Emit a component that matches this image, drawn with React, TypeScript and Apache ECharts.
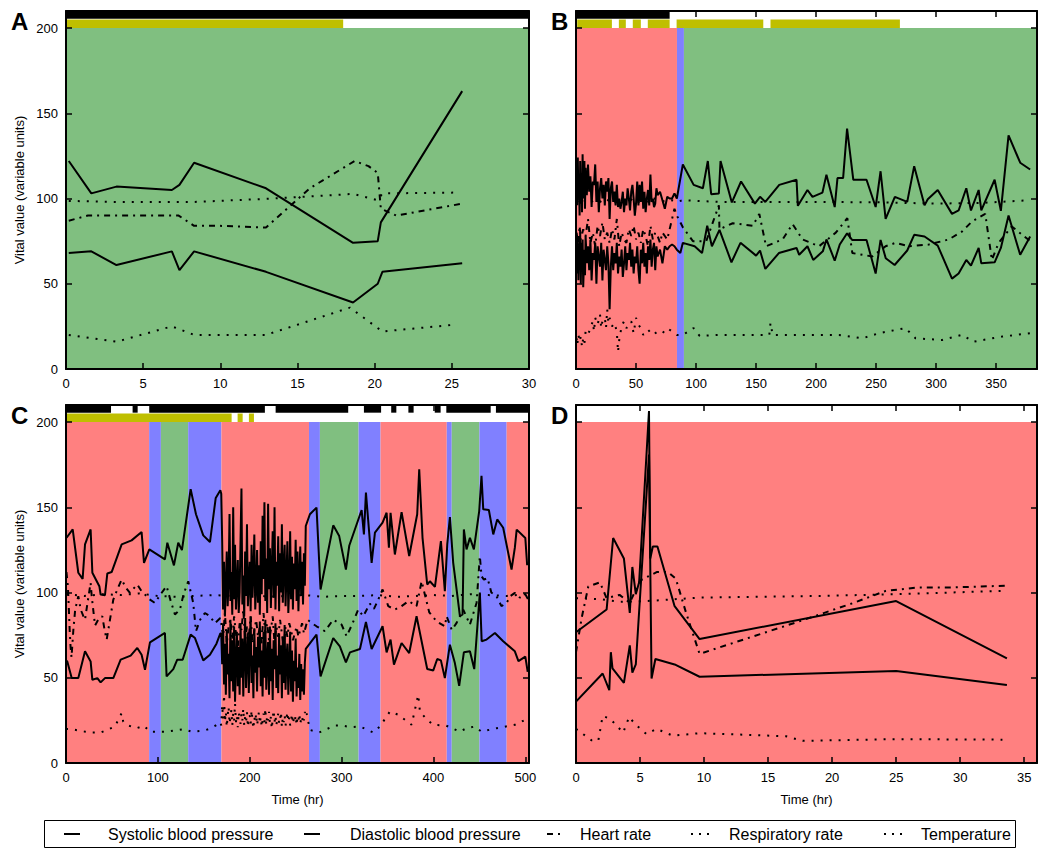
import React, { useEffect, useRef } from 'react';
import * as echarts from 'echarts';

type P = [number, number];
type Band = [number, number, string];
type Seg = [number, number];

const FONT = '"Liberation Sans", Arial, Helvetica, sans-serif';
const COLORS: Record<string, string> = { r: '#FF8080', b: '#8080FF', g: '#80BF80' };
const YELLOW = '#BFBF00';

const seriesNames = ['Systolic blood pressure', 'Diastolic blood pressure', 'Heart rate', 'Respiratory rate', 'Temperature'];
const yTicks = [0, 50, 100, 150, 200];

// ---------- Panel A ----------
const aBands: Band[] = [[0, 30, 'g']];
const aBlack: Seg[] = [[0, 30]];
const aYellow: Seg[] = [[0, 17.96]];
const aSys: P[] = [[0.18, 122], [1.64, 103], [3.27, 107], [6.86, 105], [7.35, 108], [8.3, 121], [12.96, 106], [18.6, 74], [20.2, 75], [20.4, 86], [25.67, 163]];
const aDia: P[] = [[0.18, 68], [1.64, 69], [3.27, 61], [6.86, 69], [7.35, 58], [8.3, 69], [12.96, 57], [18.6, 39], [20.2, 50], [20.5, 57], [25.67, 62]];
const aHR: P[] = [[0.18, 87], [1.42, 90], [3.27, 90], [7.3, 90], [8.3, 84], [9.9, 84], [12.96, 83], [15.8, 106], [18.7, 122], [19.6, 119], [20.2, 115], [20.4, 94], [21.4, 90], [25.67, 97]];
const aResp: P[] = [[0.18, 20], [3.27, 16], [6.86, 25], [8.3, 20], [12.96, 20], [18.4, 36], [20.5, 22], [25.2, 26]];
const aTemp: P[] = [[0.18, 98.6], [3.27, 98], [6.86, 98], [8.3, 98], [12.96, 99.8], [18.6, 102.7], [20.2, 99], [20.5, 103], [25.4, 103.5]];

// ---------- Panel B ----------
const bBands: Band[] = [[0, 84.1, 'r'], [84.1, 89.9, 'b'], [89.9, 384, 'g']];
const bBlack: Seg[] = [[0, 78]];
const bYellow: Seg[] = [[1, 29.9], [35.7, 41.5], [47.3, 54], [59.8, 78], [83.8, 156], [162, 269.8]];
const bSys: P[] = [[0.5, 118], [1, 96], [1.5, 124], [2, 100], [2.5, 112], [3, 90], [3.5, 122], [4, 97], [4.5, 115], [5, 92], [5.5, 126], [6, 100], [7, 122], [7.5, 94], [8, 118], [9, 102], [10, 120], [11, 104], [12, 113], [13, 95], [14, 110], [15, 108], [16, 120], [17, 98], [18, 110], [19, 92], [20, 106], [21, 112], [22, 100], [23, 108], [24, 96], [25, 110], [26, 104], [27, 112], [28, 88], [29, 106], [30, 110], [31, 98], [32, 104], [33, 96], [34, 108], [35, 95], [36, 100], [37, 94], [38, 98], [39, 104], [40, 92], [41, 100], [42, 96], [43, 106], [44, 100], [45, 93], [46, 104], [47, 108], [48, 100], [49, 90], [50, 97], [51, 110], [52, 96], [53, 108], [54, 98], [55, 110], [56, 94], [57, 104], [58, 92], [59, 100], [60, 105], [61, 96], [62, 114], [63, 98], [64, 100], [65, 95], [66, 97], [67, 106], [68, 102], [70, 104], [72, 99], [74, 94], [76, 101], [78, 100], [80, 100], [82, 103], [84, 100], [89, 120], [98, 108], [105.7, 106], [109.8, 122], [112.6, 102.5], [119, 103], [120.4, 122], [129.8, 97.7], [137.5, 110], [149, 97], [153.3, 101], [157.7, 98], [169.3, 108], [183.7, 111], [184.8, 95.7], [192.8, 105], [197, 101], [205.3, 103.5], [208.6, 114], [215.5, 95], [217.8, 112], [222.5, 112], [225.8, 141], [231, 111], [242, 111], [249.6, 95], [253.7, 116], [257.9, 88], [265.6, 101], [275.9, 98], [281.7, 119], [290.3, 96], [293, 99.6], [301.3, 105], [313.2, 91], [318.7, 93], [325.1, 106], [329, 93], [335.4, 105], [337.6, 93], [348.7, 111], [353.9, 92.8], [360.3, 137], [370, 121], [378.3, 117]];
const bDia: P[] = [[0.5, 72], [1, 56], [1.5, 78], [2, 52], [2.5, 70], [3, 60], [3.5, 80], [4, 50], [4.5, 74], [5, 58], [5.5, 76], [6, 48], [7, 70], [7.5, 55], [8, 78], [9, 62], [10, 72], [11, 58], [12, 76], [13, 52], [14, 68], [15, 64], [16, 74], [17, 50], [18, 72], [19, 66], [20, 60], [21, 74], [22, 52], [23, 70], [24, 64], [25, 58], [26, 72], [27, 62], [28, 35], [29, 60], [30, 72], [31, 58], [32, 68], [33, 62], [34, 74], [35, 56], [36, 66], [37, 60], [38, 70], [39, 54], [40, 62], [41, 72], [42, 58], [43, 68], [44, 64], [45, 74], [46, 60], [47, 70], [48, 56], [49, 66], [50, 62], [51, 72], [52, 58], [53, 50], [54, 70], [55, 62], [56, 74], [57, 60], [58, 68], [59, 56], [60, 72], [61, 64], [62, 76], [63, 60], [64, 70], [65, 74], [66, 58], [67, 72], [68, 66], [70, 70], [72, 62], [74, 72], [76, 70], [78, 72], [80, 73], [82, 72], [84, 70], [86.9, 68], [89, 74], [98.8, 72], [105, 68], [109.3, 84], [113.2, 72], [119.5, 81.6], [129.5, 62.6], [137, 74], [150, 66.5], [153.3, 69.5], [157.7, 58.7], [169, 68], [183.7, 71], [185.9, 67], [192.8, 72], [197.6, 64], [205.6, 69], [208.6, 76], [215.5, 63.6], [219.7, 73], [225.8, 79.6], [230, 75.7], [242, 75.7], [249.6, 56], [253.7, 75.7], [258, 65], [265.4, 61], [275.9, 69.5], [281.7, 78.7], [290.3, 77.7], [301.3, 72.4], [313.2, 53], [318.7, 56], [325.1, 64], [329, 60.7], [335.4, 71], [337.6, 62], [348.7, 62.6], [353.9, 71], [360.3, 90], [370, 67], [378.3, 77.7]];
const bHR: P[] = [[0.5, 80], [2, 72], [3, 84], [4, 76], [6, 82], [8, 78], [10, 88], [12, 74], [14, 80], [16, 72], [18, 84], [20, 78], [22, 86], [24, 76], [26, 80], [28, 74], [30, 82], [32, 76], [34, 88], [36, 72], [38, 80], [40, 76], [42, 74], [44, 82], [46, 78], [48, 84], [50, 76], [52, 80], [54, 74], [56, 82], [58, 78], [60, 72], [62, 84], [64, 76], [66, 80], [68, 78], [70, 74], [72, 80], [74, 78], [76, 76], [78, 82], [80, 88], [82, 94], [84, 90], [89.1, 83], [97.4, 75], [108.5, 75], [119, 96], [119.5, 82], [130.6, 85.5], [147.2, 84], [152.7, 91], [158.3, 72], [172.1, 76], [180.4, 85], [188.7, 76], [202.5, 72], [216.4, 80], [226, 88.5], [230.2, 68], [246.8, 66], [257.9, 72], [266.2, 74], [277.3, 72], [293.9, 73], [310.5, 76], [321.5, 80.6], [329.8, 86.5], [340.9, 91], [346.4, 64], [352, 74], [363, 83.6], [378.3, 75]];
const bResp: P[] = [[0.5, 18], [1, 14], [2, 20], [3, 16], [4, 19], [5, 13], [6, 18], [7, 15], [8, 22], [10, 20], [12, 24], [14, 28], [15, 22], [16, 30], [18, 26], [20, 32], [21, 24], [22, 28], [24, 30], [25, 24], [26, 35], [27, 27], [28, 30], [30, 25], [32, 27], [34, 22], [35, 10], [36, 17], [38, 25], [40, 28], [42, 24], [44, 26], [46, 28], [48, 21], [50, 30], [52, 26], [54, 24], [56, 20], [58, 22], [60, 23], [64, 20], [68, 22], [72, 21], [76, 24], [80, 22], [84, 20], [89.1, 20], [98, 24], [103, 19.4], [119.5, 20], [161, 20], [162, 27], [163.8, 20], [219, 20], [238.5, 18], [252.4, 21], [274.5, 24], [282.8, 18], [305, 17], [321.5, 20], [331.2, 16], [354.7, 19], [378.3, 21]];
const bTemp: P[] = [[0.5, 98], [5, 100], [10, 97], [15, 99], [20, 98], [25, 100], [30, 97], [35, 99], [40, 98], [45, 100], [50, 97], [55, 99], [60, 98], [65, 100], [70, 99], [75, 98], [80, 99], [84, 98], [89, 99], [120, 98], [150, 98], [200, 98], [250, 97.8], [300, 97], [340, 97.5], [378, 99]];

// ---------- Panel C ----------
const cBands: Band[] = [[0, 90.5, 'r'], [90.5, 103.3, 'b'], [103.3, 133, 'g'], [133, 169.2, 'b'], [169.2, 264.5, 'r'], [264.5, 276.4, 'b'], [276.4, 318.5, 'g'], [318.5, 342.4, 'b'], [342.4, 414.5, 'r'], [414.5, 419.9, 'b'], [419.9, 450, 'g'], [450, 479.7, 'b'], [479.7, 504, 'r']];
const cBlack: Seg[] = [[0, 49], [72.5, 78], [90.6, 216.5], [228.2, 307.2], [324.3, 343], [354, 359.6], [372.7, 378.4], [401.4, 407.8], [414, 462.3], [468, 504]];
const cYellow: Seg[] = [[0, 180.3], [186.8, 192.3], [199.1, 204.6]];
const cSys: P[] = [[0, 132], [1.4, 132.7], [7.3, 137], [13.4, 111.6], [18.1, 108], [20.7, 128.2], [26.8, 137], [28.7, 111.6], [36.3, 103.7], [37.7, 98.8], [42.4, 98.4], [45, 111.2], [49.7, 112], [60.6, 128.2], [71.4, 130.6], [82.3, 135.5], [84.9, 117.4], [90.7, 125.3], [107.7, 119.4], [110.3, 129.2], [117.5, 115.9], [122.2, 129.2], [126.2, 124.9], [135.7, 160.6], [141.5, 145.9], [149.4, 133.5], [156.7, 129.6], [163, 155.5], [168, 160],
  [169, 158], [170, 130], [171, 90], [172, 118], [173, 86], [174, 104], [175, 124], [176, 92], [177, 108], [178, 146], [179, 95], [180, 112], [181, 87], [182, 150], [183, 96], [184, 128], [185, 90], [186, 105], [187, 119], [188, 88], [189, 100], [190, 131], [191, 161], [192, 93], [193, 110], [194, 86], [195, 124], [196, 98], [197, 140], [198, 92], [199, 106], [200, 118], [201, 89], [202, 128], [203, 97], [204, 112], [205, 134], [206, 90], [207, 103], [208, 125], [209, 94], [210, 116], [211, 87], [212, 130], [213, 99], [214, 145], [215, 108], [216, 153], [217, 95], [218, 120], [219, 88], [220, 152], [221, 102], [222, 126], [223, 91], [224, 114], [225, 136], [226, 97], [227, 150], [228, 90], [229, 118], [230, 104], [231, 133], [232, 89], [233, 123], [234, 100], [235, 140], [236, 94], [237, 115], [238, 128], [239, 92], [240, 110], [241, 130], [242, 88], [243, 104], [244, 136], [245, 96], [246, 121], [247, 90], [248, 117], [249, 102], [250, 131], [251, 95], [252, 124], [253, 89], [254, 110], [255, 127], [256, 98], [257, 118], [258, 93], [259, 123], [260, 104], [261, 139],
  [265.5, 145.9], [272.7, 149.8], [277.1, 101.8], [290.9, 139.4], [297.4, 133.1], [304.7, 113.5], [308.4, 127.6], [321.8, 148.4], [324.3, 134.1], [326.5, 158.6], [332.7, 117.4], [336.3, 135.1], [344.6, 141], [349, 146.8], [351.5, 126.3], [353.3, 146.8], [358, 122.3], [365.3, 147.2], [373.6, 121.4], [382.3, 145.9], [384.5, 172.3], [388.1, 132.1], [393.2, 104.7], [396.1, 106.6], [401.6, 103.3], [408.1, 130.2], [412.4, 100.8], [415, 128.2], [417.9, 144.3], [421.5, 117.4], [425.9, 98.8], [428.8, 86.1], [431.7, 87.1], [433.1, 137], [436, 125.3], [439.7, 132.1], [444, 125.3], [449.8, 147.8], [452.3, 168.4], [454.2, 148.8], [460.3, 148.4], [465.1, 134.1], [469.4, 142.9], [475.9, 138], [485, 113.5], [488.6, 126.3], [490.6, 136.9], [500, 132], [502, 116]];
const cDia: P[] = [[0, 60], [1.4, 59.6], [6.2, 49.8], [13.4, 49.8], [20.7, 65.5], [26.8, 59.6], [28.7, 48.8], [34.1, 49.8], [37.7, 47.3], [42.4, 49.8], [51.5, 49.8], [59.5, 60.6], [70.4, 63], [77.6, 67.5], [82.3, 63.5], [86, 54.7], [91.4, 70.8], [107.7, 76.3], [109.5, 50.8], [116.8, 55.1], [121.1, 60.6], [127, 60.6], [135.7, 75.3], [140.4, 73.3], [149.4, 60.2], [156.7, 63.5], [163.8, 70], [168, 76],
  [169, 76], [170, 58], [171, 82], [172, 46], [173, 70], [174, 40], [175, 78], [176, 52], [177, 64], [178, 38], [179, 84], [180, 48], [181, 72], [182, 42], [183, 80], [184, 36], [185, 60], [186, 77], [187, 45], [188, 68], [189, 40], [190, 82], [191, 50], [192, 73], [193, 39], [194, 66], [195, 85], [196, 44], [197, 62], [198, 76], [199, 41], [200, 70], [201, 86], [202, 47], [203, 63], [204, 38], [205, 79], [206, 53], [207, 68], [208, 42], [209, 74], [210, 56], [211, 83], [212, 45], [213, 66], [214, 39], [215, 77], [216, 50], [217, 84], [218, 43], [219, 61], [220, 71], [221, 40], [222, 80], [223, 48], [224, 67], [225, 37], [226, 72], [227, 55], [228, 82], [229, 44], [230, 63], [231, 41], [232, 76], [233, 52], [234, 69], [235, 38], [236, 74], [237, 47], [238, 81], [239, 43], [240, 62], [241, 70], [242, 40], [243, 58], [244, 77], [245, 42], [246, 66], [247, 36], [248, 60], [249, 48], [250, 73], [251, 39], [252, 56], [253, 44], [254, 64], [255, 37], [256, 58], [257, 42], [258, 55], [259, 40], [260, 59], [261, 67],
  [272.7, 75.3], [277.1, 50.8], [290.9, 73.3], [298.1, 68.4], [304.7, 59], [309.1, 64.9], [320, 66.9], [326.5, 82.7], [332.7, 66.9], [344.6, 80.2], [349, 64.9], [353.3, 72.4], [357, 57.7], [365.3, 70.4], [373.6, 64.5], [381.6, 86.1], [393.2, 55.1], [399.8, 54.3], [404.1, 61], [408.1, 60.2], [412.4, 49.8], [417.9, 69.4], [423.3, 58.6], [428, 45.3], [433.1, 64.9], [439.7, 65.5], [444.4, 55.1], [450.5, 100], [452.5, 71.4], [457.8, 72.4], [466.9, 76.3], [475.9, 71.4], [488.6, 65.5], [492.5, 59.8], [500, 62.4], [502.6, 53.5]];
const cHR: P[] = [[0.5, 112], [2, 104], [3, 92], [4, 78], [5, 68], [6, 62], [8, 78], [10, 90], [13.4, 97.8], [16, 90], [18.9, 86.1], [20.7, 84.1], [24, 96], [26.8, 105.7], [28, 97.8], [31.6, 80.6], [35, 84], [39.5, 86.1], [42, 78], [44.3, 72.4], [47.9, 84.1], [51.5, 95.9], [56, 102], [60.6, 107.6], [65, 103], [69.6, 99.8], [73, 102], [77.6, 104.7], [82, 101], [86, 98.8], [91, 96], [96.8, 93.9], [103, 99], [109.5, 103.7], [114, 95], [118.6, 87.1], [124, 90], [128, 99], [133.1, 106.6], [138.5, 93.9], [141.5, 77.3], [146, 84], [151.2, 88], [156.7, 86.1], [162, 82], [168, 85], [169, 82], [171, 74], [173, 88], [175, 70], [177, 80], [179, 84], [181, 72], [183, 86], [185, 76], [187, 68], [189, 82], [191, 78], [193, 90], [195, 72], [197, 80], [199, 74], [201, 86], [203, 70], [205, 78], [207, 84], [209, 74], [211, 80], [213, 70], [215, 88], [217, 76], [219, 82], [221, 72], [223, 78], [225, 86], [227, 70], [229, 80], [231, 74], [233, 84], [235, 76], [237, 68], [239, 80], [241, 74], [243, 82], [245, 78], [247, 72], [249, 76], [251, 80], [253, 74], [255, 78], [257, 82], [259, 76], [261, 80], [263, 84], [267.3, 82.2], [272.7, 80.2], [281.8, 77.3], [290.9, 84.1], [300, 81.2], [305.5, 74.3], [312, 82], [318.1, 90], [323.6, 86.1], [330.8, 93.5], [335.2, 90.4], [340, 96], [344.6, 101.8], [350.8, 92], [358, 90], [365.3, 92], [373, 95], [381.6, 92], [387.1, 106.6], [395.4, 88.4], [403.4, 83.1], [412.4, 80.2], [414.3, 86.1], [420, 78], [425.2, 82.2], [432.4, 90], [439.7, 81.2], [446.9, 93.9], [450.5, 121.4], [452.3, 109.6], [454.9, 107.6], [458.9, 108.4], [463, 100], [468.7, 97.8], [474, 92], [479.5, 93.9], [484, 98], [488.6, 99.8], [494, 97], [500, 99], [503, 96]];
const cResp: P[] = [[0, 20], [6, 19.8], [20, 18.5], [28.7, 17.9], [37.7, 17.9], [45, 19.5], [53.3, 21.4], [60.5, 29.2], [62.3, 24.3], [67.8, 22], [76.9, 20.4], [84.9, 21.8], [91.4, 18.4], [109.5, 18.4], [127.7, 19.8], [136.7, 18.4], [150, 19], [155, 19.8], [163, 22], [168, 24], [169, 22], [170, 34], [171, 26], [172, 40], [173, 24], [174, 30], [175, 21], [176, 28], [177, 33], [178, 23], [179, 27], [180, 31], [181, 22], [182, 29], [183, 25], [184, 35], [185, 24], [186, 28], [187, 21], [188, 30], [189, 26], [190, 23], [191, 29], [192, 25], [193, 32], [194, 22], [195, 27], [196, 24], [197, 30], [198, 21], [199, 26], [200, 28], [201, 23], [202, 31], [203, 25], [204, 20], [205, 27], [206, 24], [207, 29], [208, 22], [209, 26], [210, 30], [211, 23], [212, 27], [213, 21], [214, 25], [215, 29], [216, 24], [217, 32], [218, 22], [219, 28], [220, 25], [221, 30], [222, 23], [223, 27], [224, 20], [225, 26], [226, 31], [227, 24], [228, 28], [229, 22], [230, 26], [231, 29], [232, 23], [233, 25], [234, 30], [235, 21], [236, 27], [237, 24], [238, 28], [239, 22], [240, 26], [241, 30], [242, 24], [243, 27], [244, 22], [245, 25], [246, 29], [247, 23], [248, 26], [249, 24], [250, 28], [251, 22], [252, 27], [253, 25], [254, 29], [255, 23], [256, 26], [257, 24], [258, 28], [259, 25], [260, 30], [261, 27], [262, 29], [265.5, 19.4], [275.6, 17.9], [283.6, 19.8], [292.7, 22], [300, 22], [310, 21], [320, 21.4], [334.5, 17.9], [341.7, 21.4], [352.6, 30.2], [361.7, 28.3], [376.2, 22.4], [383.4, 40], [385.3, 30.2], [392.5, 25.7], [399.8, 22.4], [413.5, 22], [428.8, 18.4], [436, 20.4], [445.1, 21.4], [452.3, 18.4], [468.7, 20.4], [488.6, 22.4], [495, 24], [502, 26]];
const cTemp: P[] = [[0, 99], [20, 98], [40, 99], [60, 98.5], [80, 99.5], [100, 98], [120, 97.5], [140, 98], [160, 98.5], [180, 98], [200, 99], [220, 97.5], [240, 98], [260, 98.5], [280, 97.5], [300, 98], [320, 98], [340, 98.5], [360, 97.5], [380, 98], [400, 98.5], [420, 98], [440, 99], [460, 98.5], [480, 98], [500, 99], [503, 98]];

// ---------- Panel D ----------
const dBands: Band[] = [[0, 36, 'r']];
const dBlack: Seg[] = [];
const dYellow: Seg[] = [];
const dSys: P[] = [[0, 76.7], [2.39, 90], [2.9, 132], [3.74, 120], [4.2, 88], [4.4, 115], [4.67, 99], [4.93, 106], [5.7, 206.5], [5.8, 120], [6.0, 127], [6.36, 127], [7.7, 92], [9.65, 72.7], [25, 95], [33.65, 61.4]];
const dDia: P[] = [[0, 36], [2.08, 52.5], [2.6, 42.7], [2.72, 65], [2.85, 55.5], [3.74, 47], [4.2, 69], [4.4, 53], [4.67, 57.8], [5.7, 181], [5.9, 49.6], [6.2, 61], [7.7, 57.8], [9.65, 50.6], [25, 54], [33.65, 45.7]];
const dHR: P[] = [[0, 65], [0.44, 85], [0.96, 103.5], [1.87, 106], [2.39, 96.7], [3.4, 98.6], [4.2, 94], [5, 107], [6.3, 112], [7.2, 112], [7.8, 108], [8.6, 88], [9.3, 72], [9.65, 64], [17.4, 83], [21.6, 93.7], [24.2, 101], [26.8, 103], [29.4, 103], [33.5, 104]];
const dResp: P[] = [[0, 20], [1.22, 13.3], [1.74, 13], [2.08, 27.6], [2.65, 26], [3.17, 22], [3.68, 17.8], [4.15, 27], [4.59, 23], [5.5, 17], [6.28, 20], [7.58, 16], [9.65, 17.5], [16.4, 15.7], [17.7, 13], [25, 14], [33.3, 13.7]];
const dTemp: P[] = [[0, 96.7], [2, 96], [3.4, 94.5], [5.5, 95], [9.65, 97], [19, 98], [25, 99], [33.5, 101]];

const panels = [
  { label: 'A', grid: { left: 66, top: 11, width: 463, height: 358 }, xMax: 30, xInt: 5, yLabels: true, xName: '', bands: aBands, black: aBlack, yellow: aYellow, data: [aSys, aDia, aHR, aResp, aTemp], lx: 11, ly: 21 },
  { label: 'B', grid: { left: 576, top: 11, width: 461, height: 358 }, xMax: 384, xInt: 50, yLabels: false, xName: '', bands: bBands, black: bBlack, yellow: bYellow, data: [bSys, bDia, bHR, bResp, bTemp], lx: 551, ly: 21 },
  { label: 'C', grid: { left: 66, top: 405, width: 463, height: 358 }, xMax: 504, xInt: 100, yLabels: true, xName: 'Time (hr)', bands: cBands, black: cBlack, yellow: cYellow, data: [cSys, cDia, cHR, cResp, cTemp], lx: 11, ly: 415 },
  { label: 'D', grid: { left: 576, top: 405, width: 461, height: 358 }, xMax: 36, xInt: 5, yLabels: false, xName: 'Time (hr)', bands: dBands, black: dBlack, yellow: dYellow, data: [dSys, dDia, dHR, dResp, dTemp], lx: 551, ly: 415 },
];

const lineTypes: any[] = ['solid', 'solid', [6, 5, 2, 5], [2, 7], [2, 7]];

const axisLine = { show: true, onZero: false, lineStyle: { color: '#000', width: 2 } };
const axisTick = { show: true, inside: true, length: 6, lineStyle: { color: '#000', width: 1.5 } };

function buildOption() {
  const grid: any[] = [];
  const xAxis: any[] = [];
  const yAxis: any[] = [];
  const series: any[] = [];
  const graphic: any[] = [];

  panels.forEach((p, i) => {
    grid.push({ ...p.grid, containLabel: false });
    const xMaxShown = p.xMax % p.xInt === 0;
    xAxis.push({
      gridIndex: i, type: 'value', position: 'bottom', min: 0, max: p.xMax, interval: p.xInt, z: 10,
      axisLine, axisTick, splitLine: { show: false },
      axisLabel: { show: true, color: '#000', fontSize: 13, fontFamily: FONT, margin: 8, showMaxLabel: xMaxShown },
      name: p.xName, nameLocation: 'middle', nameGap: 30,
      nameTextStyle: { color: '#000', fontSize: 13, fontFamily: FONT },
    });
    xAxis.push({
      gridIndex: i, type: 'value', position: 'top', min: 0, max: p.xMax, interval: p.xInt, z: 10,
      axisLine, axisTick, splitLine: { show: false }, axisLabel: { show: false },
    });
    yAxis.push({
      gridIndex: i, type: 'value', position: 'left', min: 0, max: 210, interval: 50, z: 10,
      axisLine, axisTick, splitLine: { show: false },
      axisLabel: { show: p.yLabels, color: '#000', fontSize: 13, fontFamily: FONT, margin: 8, showMaxLabel: false },
      name: p.yLabels ? 'Vital value (variable units)' : '', nameLocation: 'middle', nameGap: 40,
      nameTextStyle: { color: '#000', fontSize: 13, fontFamily: FONT },
    });
    yAxis.push({
      gridIndex: i, type: 'value', position: 'right', min: 0, max: 210, interval: 50, z: 10,
      axisLine, axisTick, splitLine: { show: false }, axisLabel: { show: false },
    });

    const areas: any[] = [];
    p.bands.forEach(([s, e, c]) => areas.push([{ xAxis: s, yAxis: yTicks[0], itemStyle: { color: COLORS[c] } }, { xAxis: e, yAxis: yTicks[4] }]));
    p.black.forEach(([s, e]) => areas.push([{ xAxis: s, yAxis: 205.5, itemStyle: { color: '#000' } }, { xAxis: e, yAxis: 210 }]));
    p.yellow.forEach(([s, e]) => areas.push([{ xAxis: s, yAxis: 200, itemStyle: { color: YELLOW } }, { xAxis: e, yAxis: 205 }]));

    p.data.forEach((d, k) => {
      const s: any = {
        type: 'line', name: seriesNames[k], xAxisIndex: i * 2, yAxisIndex: i * 2, data: d,
        symbol: 'none', showSymbol: false, silent: true, animation: false,
        lineStyle: { color: '#000', width: 2, type: lineTypes[k], cap: 'butt' },
        emphasis: { disabled: true },
      };
      if (k === 0) {
        s.markArea = { silent: true, z: 1, label: { show: false }, itemStyle: { borderWidth: 0 }, emphasis: { disabled: true }, data: areas };
      }
      series.push(s);
    });

    graphic.push({
      type: 'text', x: p.lx, y: p.ly, z: 100,
      style: { text: p.label, fontSize: 24, fontWeight: 'bold', fontFamily: FONT, fill: '#000', align: 'left', verticalAlign: 'middle' },
    });
  });

  // legend box
  const ly = 834;
  graphic.push({ type: 'rect', shape: { x: 44.5, y: 820.5, width: 971, height: 27 }, style: { fill: '#fff', stroke: '#000', lineWidth: 1 }, z: 100 });
  const legendItems = [
    { x1: 64, x2: 80, tx: 108, dash: null },
    { x1: 304, x2: 320, tx: 350, dash: null },
    { x1: 547, x2: 562, tx: 580, dash: [6, 5, 2, 5] },
    { x1: 691, x2: 710, tx: 729, dash: [2, 6] },
    { x1: 884, x2: 903, tx: 921, dash: [2, 6] },
  ];
  legendItems.forEach((it, k) => {
    graphic.push({ type: 'line', z: 101, shape: { x1: it.x1, y1: ly, x2: it.x2, y2: ly }, style: { stroke: '#000', lineWidth: 2, lineDash: it.dash || undefined } });
    graphic.push({ type: 'text', z: 101, x: it.tx, y: ly, style: { text: seriesNames[k], fontSize: 16, fontFamily: FONT, fill: '#000', align: 'left', verticalAlign: 'middle' } });
  });

  return { animation: false, backgroundColor: '#fff', grid, xAxis, yAxis, series, graphic };
}

export default function App() {
  const ref = useRef<HTMLDivElement>(null);
  useEffect(() => {
    if (!ref.current) return;
    const chart = echarts.init(ref.current, undefined, { renderer: 'svg' });
    chart.setOption(buildOption() as any);
    return () => chart.dispose();
  }, []);
  return <div ref={ref} style={{ position: 'fixed', left: 0, top: 0, width: 1039, height: 848, background: '#fff' }} />;
}
